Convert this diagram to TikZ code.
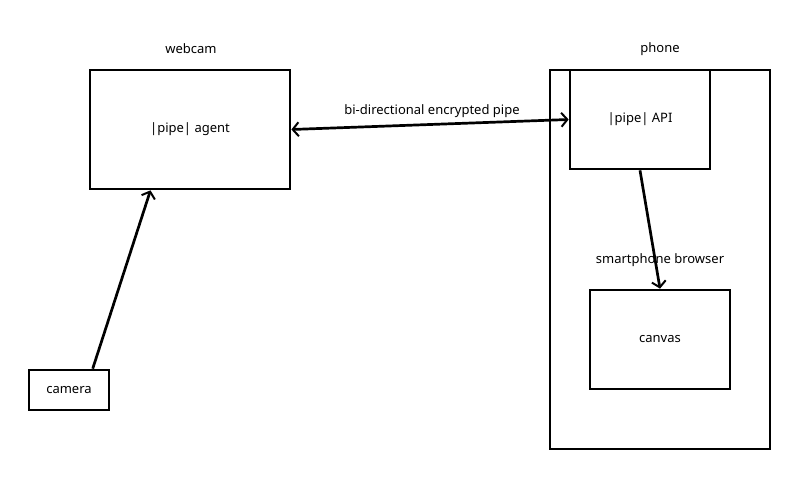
\documentclass[tikz,border=0pt]{standalone}
\usepackage{fontspec}
\setmainfont{Noto Sans}
\usetikzlibrary{arrows.meta, calc}
\tikzset{>={Straight Barb[length=6pt,width=14pt,line width=2pt]}}
\tikzstyle{box} = [draw, line width=2.7pt, inner sep=0, font=\fontsize{13}{15}\selectfont]
\tikzstyle{link} = [line width=2.7pt]
\tikzstyle{lbl} = [font=\fontsize{13}{15}\selectfont, inner sep=0]

\begin{document}
\begin{tikzpicture}[x=1pt, y=-1pt]
		\useasboundingbox (0,0) rectangle (800,480);
		
		% Boxes
		\node[box, minimum width=200, minimum height=119] (webcam) at (190,129.5) {|pipe| agent};
		\node[box, minimum width=80, minimum height=40] (camera) at (69,390) {camera};
		\node[box, minimum width=220, minimum height=379] (phone) at (660,259.5) {};
		\node[box, minimum width=140, minimum height=99] (api) at (640,119.5) {|pipe| API};
		\node[box, minimum width=140, minimum height=99] (canvas) at (660,339.5) {canvas};
		
		% Labels
		\node[lbl] (webcamlbl) at (191,49) {webcam};
		\node[lbl] (phonelbl) at (660,49) {phone};
		\node[lbl] (browserlbl) at (660,260) {smartphone browser};
		\node[lbl] (pipelbl) at (432,111) {bi-directional encrypted pipe};
		
		% Arrows
		\draw[link, ->] (camera.42) -- (webcam.237);
		\draw[link, <->] (webcam.east) -- (api.west);
		\draw[link, ->] (api.south) -- (canvas.north);
\end{tikzpicture}
\end{document}
